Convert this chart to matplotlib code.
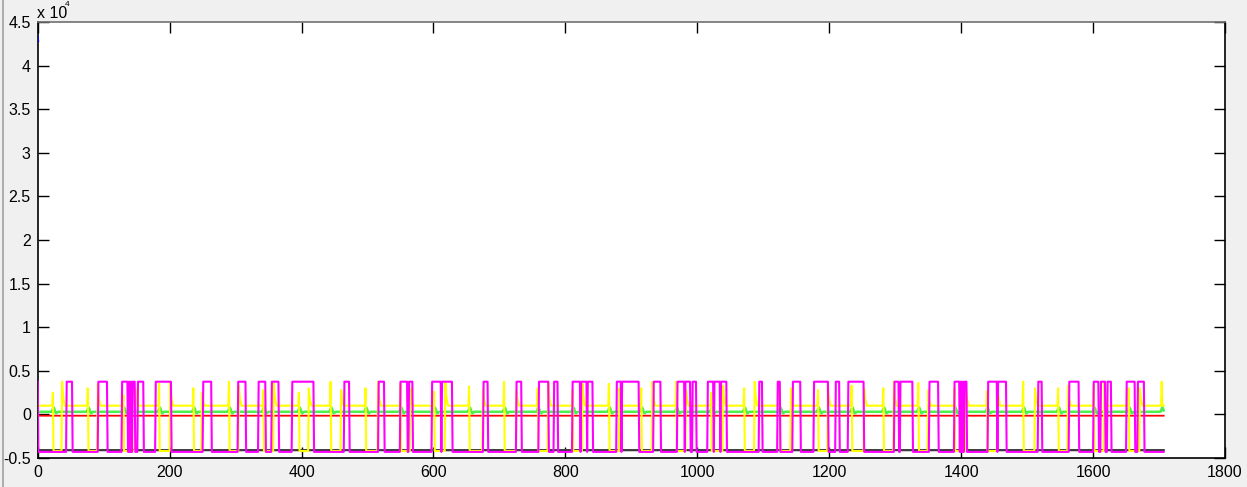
import numpy as np
import matplotlib
matplotlib.use("Agg")
import matplotlib.pyplot as plt
from matplotlib.lines import Line2D

# ---------------- data (units of the x10^4 multiplier) ----------------
N_SAMPLES = 1708

x_ticks = [0, 200, 400, 600, 800, 1000, 1200, 1400, 1600, 1800]
y_ticks = [-0.5, 0, 0.5, 1, 1.5, 2, 2.5, 3, 3.5, 4, 4.5]
y_tick_labels = ["-0.5", "0", "0.5", "1", "1.5", "2", "2.5", "3", "3.5", "4", "4.5"]

# magenta square wave: sample index where it goes high / goes low again
magenta_rise = [0, 44, 92, 128, 138, 140, 142, 144, 152, 179, 251, 304, 335, 355, 386, 465,
                517, 550, 563, 598, 613, 676, 726, 760, 783, 811, 824, 834, 878, 886, 934,
                970, 982, 993, 1016, 1026, 1036, 1094, 1122, 1145, 1177, 1210, 1229, 1299,
                1308, 1352, 1390, 1399, 1401, 1403, 1405, 1441, 1456, 1517, 1564, 1601,
                1612, 1622, 1651, 1668]
magenta_fall = [0, 52, 105, 136, 138, 140, 142, 147, 160, 202, 263, 315, 345, 365, 418, 472,
                525, 560, 568, 611, 628, 682, 733, 774, 788, 822, 832, 841, 884, 911, 944,
                980, 989, 998, 1024, 1034, 1044, 1098, 1125, 1156, 1198, 1215, 1252, 1305,
                1326, 1365, 1397, 1399, 1401, 1403, 1408, 1454, 1468, 1522, 1578, 1608,
                1618, 1627, 1663, 1677]
magenta_high = 0.375
magenta_low = -0.43

# beat positions (green bumps / yellow spikes)
beats = [23, 76, 130, 184, 236, 290, 342, 396, 444, 497, 550, 601, 654, 707, 758, 811, 866,
         915, 968, 1021, 1071, 1125, 1183, 1234, 1282, 1335, 1390, 1439, 1494, 1547, 1601,
         1654, 1704]
yellow_low_len = [13, 14, 17, 16, 12, 14, 15, 14, 15, 18, 14, 16, 20, 18, 15, 14, 15, 16,
                  14, 17, 15, 16, 14, 18, 15, 14, 16, 15, 17, 14, 15, 16, 0]
yellow_spike_pre = [0.25, 0.30, 0.22, 0.35, 0.30, 0.375, 0.28, 0.25, 0.375, 0.30, 0.35,
                    0.26, 0.32, 0.375, 0.30, 0.28, 0.35, 0.30, 0.375, 0.25, 0.30, 0.35,
                    0.28, 0.33, 0.30, 0.36, 0.30, 0.27, 0.375, 0.30, 0.34, 0.30, 0.375]
yellow_spike_post = [0.375, 0.35, 0.30, 0.375, 0.25, 0.33, 0.375, 0.30, 0.28, 0.375, 0.30,
                     0.36, 0.30, 0.27, 0.375, 0.35, 0.30, 0.375, 0.28, 0.33, 0.375, 0.30,
                     0.35, 0.30, 0.375, 0.28, 0.36, 0.375, 0.30, 0.33, 0.375, 0.30, 0.10]
yellow_base = 0.10
yellow_low = -0.42

green_base = 0.03
green_bump = [0.04, 0.065, 0.08, 0.07, 0.045, 0.02, 0.012, 0.018, 0.026]  # shape around a beat

red_level = -0.015
black_level = -0.41
blue_x = [0, 1]
blue_values = [4.34, 4.28]

# ---------------- build series ----------------
x = np.arange(N_SAMPLES)

magenta = np.full(N_SAMPLES, magenta_low)
for r, f in zip(magenta_rise, magenta_fall):
    magenta[r:f + 1] = magenta_high

yellow = np.full(N_SAMPLES, yellow_base)
decay = [1.0, 0.55, 0.3, 0.15]
for b, L, h1, h2 in zip(beats, yellow_low_len, yellow_spike_pre, yellow_spike_post):
    if b < N_SAMPLES:
        yellow[b] = h1
    yellow[b + 1:min(b + 1 + L, N_SAMPLES)] = yellow_low
    for k, d in enumerate(decay):
        i = b + 1 + L + k
        if i < N_SAMPLES:
            yellow[i] = yellow_base + (h2 - yellow_base) * d

green = np.full(N_SAMPLES, green_base)
for b in beats:
    for k, v in enumerate(green_bump):
        i = b - 1 + k
        if 0 <= i < N_SAMPLES:
            green[i] = v

red = np.full(N_SAMPLES, red_level)
black = np.full(N_SAMPLES, black_level)

# ---------------- figure ----------------
W, H = 1247, 487
plt.rcParams["font.family"] = ["Liberation Sans", "DejaVu Sans"]
fig = plt.figure(figsize=(W / 100, H / 100), dpi=100, facecolor="#f0f0f0")

ax = fig.add_axes([37.7 / W, 1 - 458 / H, (1225 - 37.7) / W, (458 - 22) / H])
ax.set_facecolor("white")

ax.plot(x, black, color="#3c3c3c", lw=1.6, zorder=2)
ax.plot(x, red, color="#ff0000", lw=1.3, zorder=3)
ax.plot(x, green, color="#4cf04c", lw=1.8, zorder=4)
ax.plot(x, yellow, color="#ffff00", lw=1.5, zorder=5)
ax.plot(x, magenta, color="#ff00ff", lw=1.5, zorder=6)
ax.plot(blue_x, blue_values, color="#0000ff", lw=1.2, zorder=7)

ax.set_xlim(0, 1800)
ax.set_ylim(-0.5, 4.5)
ax.set_xticks(x_ticks)
ax.set_xticklabels([str(t) for t in x_ticks])
ax.set_yticks(y_ticks)
ax.set_yticklabels(y_tick_labels)
ax.tick_params(direction="in", length=8, width=1, top=True, right=True,
               labelsize=11.5, colors="black", pad=5)
for s in ["left", "bottom", "right"]:
    ax.spines[s].set_color("black")
    ax.spines[s].set_linewidth(1.2)
ax.spines["top"].set_color("#707070")
ax.spines["top"].set_linewidth(1.2)

# exponent label (MATLAB style)
fig.text(37 / W, 1 - 13 / H, "x 10", fontsize=11.5, ha="left", va="center")
fig.text(65 / W, 1 - 0.5 / H, "4", fontsize=6, ha="left", va="top")

# window border on the left
fig.add_artist(Line2D([2.5 / W, 2.5 / W], [0, 1], color="#a0a0a0", lw=1.2))

fig.savefig("out.png", dpi=100, facecolor=fig.get_facecolor())
